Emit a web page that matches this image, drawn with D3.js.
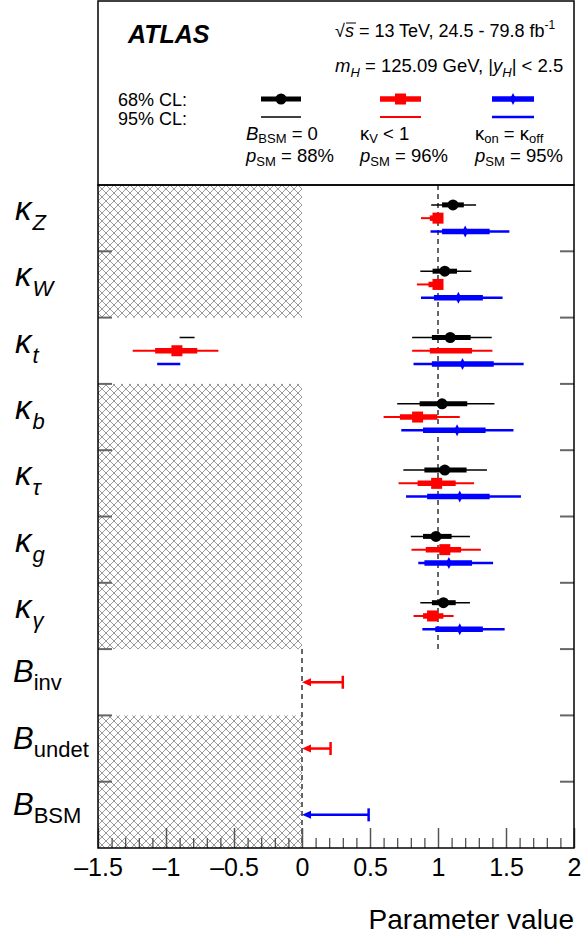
<!DOCTYPE html>
<html><head><meta charset="utf-8">
<script src="https://cdn.jsdelivr.net/npm/d3@7"></script>
<style>body{margin:0;background:#fff} svg{display:block} text{font-family:"Liberation Sans",Arial,Helvetica,sans-serif;fill:#000}</style>
</head><body><svg id="c" width="581" height="938"></svg>
<script>
// ---------------- data ----------------
const params = ["kZ","kW","kt","kb","ktau","kg","kgam","Binv","Bundet","BBSM"];
const labelMain = ["κ","κ","κ","κ","κ","κ","κ","B","B","B"];
const labelSub = ["Z","W","t","b","τ","g","γ","inv","undet","BSM"];
const hatchedRows = ["kZ","kW","kb","ktau","kg","kgam","Bundet","BBSM"];
const kappaParams = ["kZ","kW","kt","kb","ktau","kg","kgam"];
const seriesNames = ["bbsm0","kv1","konoff"];

// B_BSM = 0 (black)
const blackCentral = [1.11, 1.05, 1.09, 1.03, 1.05, 0.985, 1.04];
const black68 = [[[1.03,1.19]],[[0.96,1.14]],[[0.955,1.24]],[[0.865,1.215]],[[0.90,1.21]],[[0.89,1.10]],[[0.955,1.13]]];
const black95 = [[[0.95,1.28]],[[0.87,1.245]],[[-0.90,-0.79],[0.81,1.395]],[[0.70,1.415]],[[0.745,1.36]],[[0.80,1.235]],[[0.87,1.235]]];

// kappa_V < 1 (red)
const redCentral = [1.00, 1.00, -0.92, 0.85, 0.99, 1.05, 0.96];
const red68 = [[[0.94,1.00]],[[0.93,1.00]],[[-1.08,-0.77],[0.94,1.25]],[[0.72,0.995]],[[0.85,1.13]],[[0.91,1.17]],[[0.89,1.04]]];
const red95 = [[[0.875,1.00]],[[0.845,1.00]],[[-1.245,-0.615],[0.81,1.40]],[[0.60,1.16]],[[0.71,1.265]],[[0.805,1.315]],[[0.82,1.115]]];
const redLimits = {Binv: 0.30, Bundet: 0.21};

// kappa_on = kappa_off (blue)
const blueCentral = [1.20, 1.15, 1.18, 1.14, 1.16, 1.08, 1.16];
const blue68 = [[[1.03,1.38]],[[0.97,1.33]],[[0.955,1.41]],[[0.89,1.35]],[[0.92,1.38]],[[0.90,1.25]],[[0.98,1.33]]];
const blue95 = [[[0.945,1.525]],[[0.875,1.475]],[[-1.065,-0.895],[0.82,1.63]],[[0.73,1.555]],[[0.765,1.61]],[[0.855,1.405]],[[0.885,1.49]]];
const blueLimits = {BBSM: 0.49};

const xMajor = [-1.5,-1,-0.5,0,0.5,1,1.5,2];
const xMinor = d3.range(-15, 21).map(i => i/10).filter(v => Math.abs(v*2 - Math.round(v*2)) > 1e-6);

// ---------------- layout ----------------
const L = 98, R = 574, T = 185, B = 848, TOP = 1;
const svg = d3.select("#c");
const x = d3.scaleLinear().domain([-1.5, 2]).range([L, R]);
const y = d3.scaleBand().domain(params).range([T, B]);
const bw = y.bandwidth();
const off = d3.scalePoint().domain(seriesNames).range([-bw/5, bw/5]);

// hatch pattern
const defs = svg.append("defs");
const pat = defs.append("pattern").attr("id","hatch").attr("patternUnits","userSpaceOnUse")
  .attr("width",8).attr("height",8).attr("x",L).attr("y",T);
pat.append("path").attr("d","M0,0L8,8M8,0L0,8M-2,6L2,10M6,-2L10,2M-2,2L2,-2M6,10L10,6")
  .attr("stroke","#9a9a9a").attr("stroke-width",1).attr("fill","none");

svg.append("g").selectAll("rect").data(hatchedRows).join("rect")
  .attr("x", x(-1.5)).attr("width", x(0) - x(-1.5))
  .attr("y", d => y(d)).attr("height", bw)
  .attr("fill","url(#hatch)");

// dashed reference lines
svg.append("line").attr("x1",x(1)).attr("x2",x(1)).attr("y1",T).attr("y2",y("Binv"))
  .attr("stroke","#666").attr("stroke-width",2).attr("stroke-dasharray","5,4");
svg.append("line").attr("x1",x(0)).attr("x2",x(0)).attr("y1",y("Binv")).attr("y2",B)
  .attr("stroke","#666").attr("stroke-width",2).attr("stroke-dasharray","5,4");

// series
const series = [
  {name:"bbsm0", color:"#000", central:blackCentral, c68:black68, c95:black95, thin:1.5, thick:5, marker:"circle"},
  {name:"kv1", color:"#f00", central:redCentral, c68:red68, c95:red95, thin:2, thick:5.5, marker:"square"},
  {name:"konoff", color:"#00f", central:blueCentral, c68:blue68, c95:blue95, thin:2.5, thick:5.5, marker:"diamond"}
];

function drawMarker(g, type, cx, cy, color) {
  if (type === "circle") g.append("circle").attr("cx",cx).attr("cy",cy).attr("r",5.5).attr("fill",color);
  else if (type === "square") g.append("rect").attr("x",cx-5.5).attr("y",cy-5.5).attr("width",11).attr("height",11).attr("fill",color);
  else g.append("path").attr("d",`M${cx},${cy-6}L${cx+3},${cy}L${cx},${cy+6}L${cx-3},${cy}Z`).attr("fill",color);
}

const gData = svg.append("g");
series.forEach(s => {
  kappaParams.forEach((p, i) => {
    const cy = y(p) + bw/2 + off(s.name);
    s.c95[i].forEach(seg => gData.append("line").attr("x1",x(seg[0])).attr("x2",x(seg[1]))
      .attr("y1",cy).attr("y2",cy).attr("stroke",s.color).attr("stroke-width",s.thin));
    s.c68[i].forEach(seg => gData.append("line").attr("x1",x(seg[0])).attr("x2",x(seg[1]))
      .attr("y1",cy).attr("y2",cy).attr("stroke",s.color).attr("stroke-width",s.thick));
    drawMarker(gData, s.marker, x(s.central[i]), cy, s.color);
  });
});

// upper limits
function drawLimit(p, val, color) {
  const cy = y(p) + bw/2;
  const x0 = x(0), x1 = x(val);
  gData.append("line").attr("x1",x0+6).attr("x2",x1).attr("y1",cy).attr("y2",cy).attr("stroke",color).attr("stroke-width",2.5);
  gData.append("path").attr("d",`M${x0},${cy}L${x0+9},${cy-4}L${x0+9},${cy+4}Z`).attr("fill",color);
  gData.append("line").attr("x1",x1).attr("x2",x1).attr("y1",cy-6.5).attr("y2",cy+6.5).attr("stroke",color).attr("stroke-width",2.5);
}
Object.entries(redLimits).forEach(([p,v]) => drawLimit(p, v, "#f00"));
Object.entries(blueLimits).forEach(([p,v]) => drawLimit(p, v, "#00f"));

// y ticks at row boundaries (left & right, inward)
const bounds = params.slice(1).map(p => y(p));
svg.append("g").selectAll("line.l").data(bounds).join("line")
  .attr("x1",L).attr("x2",L+14).attr("y1",d=>d).attr("y2",d=>d).attr("stroke","#666").attr("stroke-width",2);
svg.append("g").selectAll("line.r").data(bounds).join("line")
  .attr("x1",R-14).attr("x2",R).attr("y1",d=>d).attr("y2",d=>d).attr("stroke","#666").attr("stroke-width",2);

// x axis
const fmt = d => (d < 0 ? "–" : "") + Math.abs(d);
const axMaj = svg.append("g").attr("transform",`translate(0,${B})`)
  .call(d3.axisBottom(x).tickValues(xMajor).tickSize(-20).tickPadding(28).tickFormat(fmt));
axMaj.select(".domain").remove();
axMaj.selectAll(".tick line").attr("stroke","#555").attr("stroke-width",1.5);
axMaj.selectAll(".tick text").attr("font-size",25).attr("font-family","Liberation Sans, Arial, sans-serif").attr("fill","#000").attr("dy","0");
const axMin = svg.append("g").attr("transform",`translate(0,${B})`)
  .call(d3.axisBottom(x).tickValues(xMinor).tickSize(-10).tickFormat(""));
axMin.select(".domain").remove();
axMin.selectAll(".tick line").attr("stroke","#444").attr("stroke-width",1.2);

svg.append("text").attr("x",R).attr("y",929).attr("text-anchor","end").attr("font-size",28).text("Parameter value");

// frames
svg.append("rect").attr("x",L).attr("y",TOP).attr("width",R-L).attr("height",T-TOP).attr("fill","none").attr("stroke","#000").attr("stroke-width",1.5);
svg.append("rect").attr("x",L).attr("y",T).attr("width",R-L).attr("height",B-T).attr("fill","none").attr("stroke","#000").attr("stroke-width",1.5);

// y labels
params.forEach((p, i) => {
  const cy = y(p) + bw/2;
  const isK = labelMain[i] === "κ";
  const t = svg.append("text").attr("x", isK ? 15 : 13).attr("y", cy + (isK ? 2 : 0)).attr("font-size", isK ? 33 : 31);
  t.append("tspan").attr("font-style","italic").text(labelMain[i]);
  t.append("tspan").attr("font-size",22).attr("font-style", isK ? "italic" : "normal")
    .attr("dx", isK ? 1 : 0).attr("dy", isK ? 10 : 8).text(labelSub[i]);
});

// legend box texts
svg.append("text").attr("x",128).attr("y",43).attr("font-size",25).attr("font-weight","bold").attr("font-style","italic").text("ATLAS");
const t1 = svg.append("text").attr("x",335).attr("y",37).attr("font-size",18);
t1.append("tspan").text("√");
t1.append("tspan").attr("font-style","italic").text("s");
t1.append("tspan").text(" = 13 TeV, 24.5 - 79.8 fb");
t1.append("tspan").attr("font-size",12).attr("dy",-8).text("-1");
svg.append("line").attr("x1",346).attr("x2",356).attr("y1",23).attr("y2",23).attr("stroke","#000").attr("stroke-width",1);
const t2 = svg.append("text").attr("x",335).attr("y",72).attr("font-size",18.5);
t2.append("tspan").attr("font-style","italic").text("m");
t2.append("tspan").attr("font-style","italic").attr("font-size",13).attr("dy",5).text("H");
t2.append("tspan").attr("dy",-5).text(" = 125.09 GeV, |");
t2.append("tspan").attr("font-style","italic").text("y");
t2.append("tspan").attr("font-style","italic").attr("font-size",13).attr("dy",5).text("H");
t2.append("tspan").attr("dy",-5).text("| < 2.5");

svg.append("text").attr("x",118).attr("y",106).attr("font-size",18).text("68% CL:");
svg.append("text").attr("x",118).attr("y",125).attr("font-size",18).text("95% CL:");

const legX = [[261,301],[380,421],[492,534]];
const legLab1 = [["B","BSM"," = 0",true],["κ","V"," < 1",false],["κ","on"," = κ",false]];
const legPct = ["88%","96%","95%"];
const legTextX = [246, 360, 475];
series.forEach((s, i) => {
  const [a, b] = legX[i];
  svg.append("line").attr("x1",a).attr("x2",b).attr("y1",99).attr("y2",99).attr("stroke",s.color).attr("stroke-width",s.thick);
  svg.append("line").attr("x1",a).attr("x2",b).attr("y1",117).attr("y2",117).attr("stroke",s.color).attr("stroke-width",s.thin);
  drawMarker(svg, s.marker, (a+b)/2, 99, s.color);
  const l1 = svg.append("text").attr("x",legTextX[i]).attr("y",140).attr("font-size",18.5);
  l1.append("tspan").attr("font-style", legLab1[i][3] ? "italic" : "normal").text(legLab1[i][0]);
  l1.append("tspan").attr("font-size",13).attr("dy",3).text(legLab1[i][1]);
  l1.append("tspan").attr("dy",-3).text(legLab1[i][2]);
  if (i === 2) l1.append("tspan").attr("font-size",13).attr("dy",3).text("off");
  const l2 = svg.append("text").attr("x",legTextX[i]).attr("y",162).attr("font-size",18.5);
  l2.append("tspan").attr("font-style","italic").text("p");
  l2.append("tspan").attr("font-size",13).attr("dy",4).text("SM");
  l2.append("tspan").attr("dy",-4).text(" = " + legPct[i]);
});
</script></body></html>
